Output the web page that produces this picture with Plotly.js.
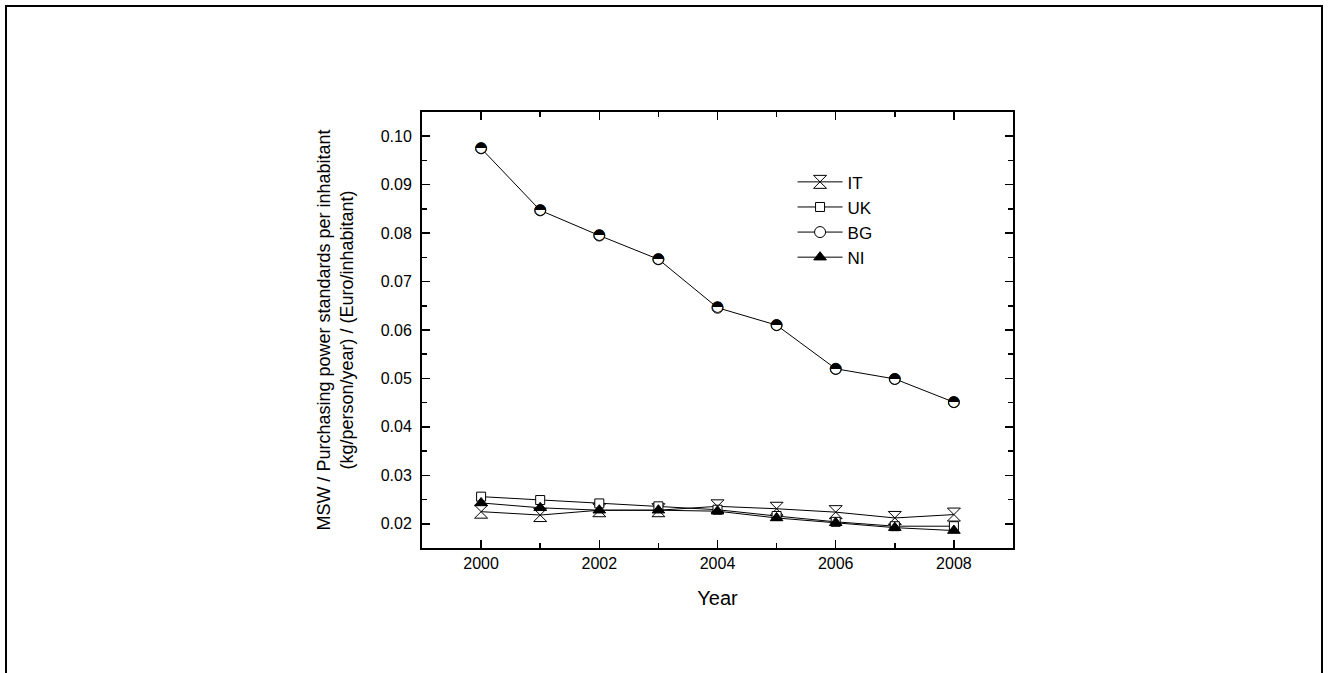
<!DOCTYPE html>
<html><head><meta charset="utf-8">
<script src="https://cdn.plot.ly/plotly-3.0.1.min.js"></script>
<style>
html,body{margin:0;padding:0;background:#fff;overflow:hidden}
#chart{width:1329px;height:673px}
#frame{position:absolute;left:5px;top:5px;width:1314px;height:720px;border:2px solid #000;border-bottom:none;pointer-events:none}
</style></head><body>
<div id="chart"></div><div id="frame"></div>
<script>
const years = [2000, 2001, 2002, 2003, 2004, 2005, 2006, 2007, 2008];
const IT = [0.0225, 0.0218, 0.0228, 0.0228, 0.0236, 0.0231, 0.0224, 0.0212, 0.0219];
const UK = [0.0256, 0.0249, 0.0242, 0.0236, 0.0229, 0.0216, 0.0204, 0.0195, 0.0195];
const BG = [0.0975, 0.0847, 0.0795, 0.0746, 0.0646, 0.0610, 0.0520, 0.0499, 0.0451];
const NI = [0.0243, 0.0233, 0.0228, 0.0228, 0.0226, 0.0212, 0.0202, 0.0192, 0.0186];
const seriesNames = ['IT', 'UK', 'BG', 'NI'];

const F = '"Liberation Sans", Arial, sans-serif';
const lineStyle = {color: '#000', width: 1};

const traces = [
  {x: years, y: IT, name: seriesNames[0], mode: 'lines+markers', line: lineStyle,
   marker: {symbol: 'hourglass-open', size: 13, color: '#000', line: {width: 1}}},
  {x: years, y: UK, name: seriesNames[1], mode: 'lines+markers', line: lineStyle,
   marker: {symbol: 'square', size: 9, color: '#fff', line: {color: '#000', width: 1}}},
  {x: years, y: BG, name: seriesNames[2], mode: 'lines+markers', line: lineStyle,
   marker: {symbol: 'circle', size: 11, color: '#fff', line: {color: '#000', width: 1}}},
  {x: years, y: BG, name: seriesNames[2], mode: 'text', showlegend: false, hoverinfo: 'skip',
   text: BG.map(() => '\u25D3'), textposition: 'middle center',
   textfont: {family: '"DejaVu Sans"', size: 15, color: '#000'}},
  {x: years, y: NI, name: seriesNames[3], mode: 'lines+markers', line: lineStyle,
   marker: {symbol: 'triangle-up', size: 11, color: '#000', line: {color: '#000', width: 1}}}
];

const axisCommon = {
  showline: true, linewidth: 2, linecolor: '#000', mirror: 'ticks',
  ticks: 'inside', ticklen: 8, tickwidth: 1.5, tickcolor: '#000',
  showgrid: false, zeroline: false,
  tickfont: {family: F, size: 16, color: '#000'}
};

const layout = {
  width: 1329, height: 673,
  margin: {l: 422, r: 316, t: 112, b: 125},
  paper_bgcolor: '#fff', plot_bgcolor: '#fff',
  font: {family: F, color: '#000'},
  showlegend: true,
  legend: {x: 0.627, y: 0.88, xanchor: 'left', yanchor: 'top', itemwidth: 45,
           bgcolor: 'rgba(0,0,0,0)', font: {family: F, size: 17, color: '#000'},
           tracegroupgap: 0},
  xaxis: Object.assign({}, axisCommon, {
    range: [1999, 2009], tick0: 2000, dtick: 2,
    minor: {dtick: 1, ticks: 'inside', ticklen: 5, tickwidth: 1.5, tickcolor: '#000'},
    title: {text: 'Year', font: {family: F, size: 20, color: '#000'}, standoff: 20}
  }),
  yaxis: Object.assign({}, axisCommon, {
    range: [0.015, 0.105], tick0: 0, dtick: 0.01, tickformat: '.2f', ticklabelstandoff: 5,
    minor: {dtick: 0.005, ticks: 'inside', ticklen: 5, tickwidth: 1.5, tickcolor: '#000'},
    title: {text: 'MSW / Purchasing power standards per inhabitant<br>(kg/person/year) / (Euro/inhabitant)',
            font: {family: F, size: 18, color: '#000'}, standoff: 22}
  })
};

Plotly.newPlot('chart', traces, layout, {displayModeBar: false, staticPlot: true});
</script></body></html>
